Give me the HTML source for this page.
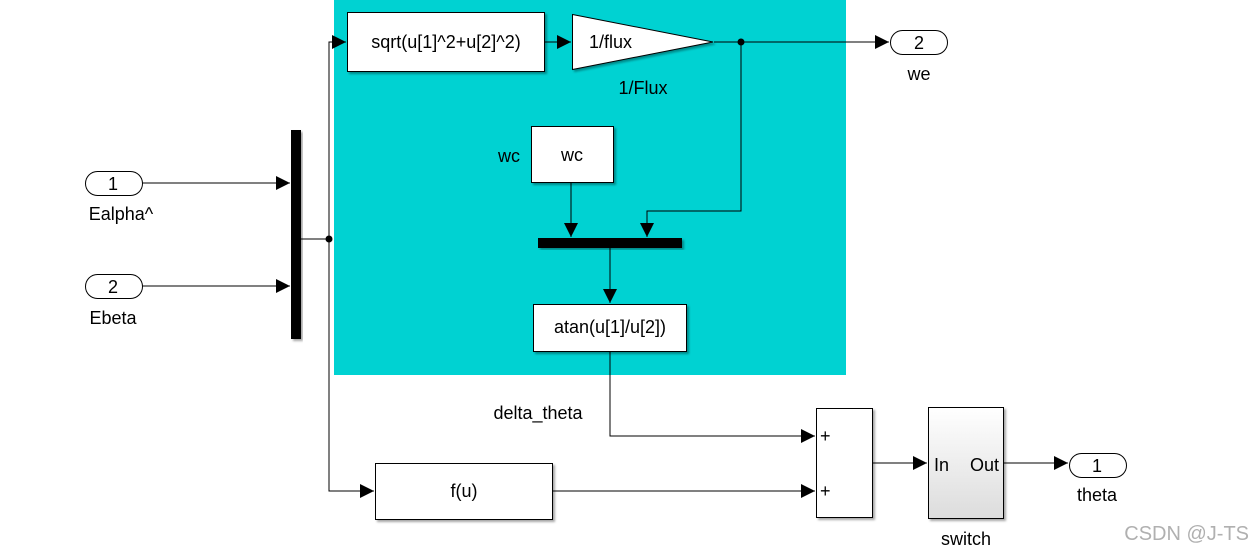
<!DOCTYPE html>
<html><head><meta charset="utf-8"><style>
html,body{margin:0;padding:0;background:#fff;}
svg{display:block;font-family:"Liberation Sans",Arial,sans-serif;}
</style></head><body>
<svg width="1253" height="555" viewBox="0 0 1253 555" xmlns="http://www.w3.org/2000/svg">
<defs>
<marker id="a" viewBox="0 0 10 10" refX="10" refY="5" markerWidth="14" markerHeight="14" markerUnits="userSpaceOnUse" orient="auto"><path d="M0,0 L10,5 L0,10 z" fill="#000"/></marker>
<linearGradient id="g" x1="0" y1="0" x2="0" y2="1"><stop offset="0" stop-color="#fff"/><stop offset="1" stop-color="#dcdcdc"/></linearGradient>
<filter id="s" x="-10%" y="-10%" width="130%" height="130%"><feDropShadow dx="2" dy="2" stdDeviation="1" flood-color="#000" flood-opacity="0.35"/></filter>
</defs>
<rect x="334" y="0" width="512" height="375" fill="#00d2d2"/>
<g stroke="#000" stroke-width="1" fill="none">
<line x1="142" y1="183" x2="290" y2="183" marker-end="url(#a)"/>
<line x1="142" y1="286" x2="290" y2="286" marker-end="url(#a)"/>
<line x1="301" y1="239" x2="329" y2="239"/>
<polyline points="329,491 329,42 346,42" marker-end="url(#a)"/>
<polyline points="329,239 329,491 374,491" marker-end="url(#a)"/>
<line x1="545" y1="42" x2="571" y2="42" marker-end="url(#a)"/>
<line x1="714" y1="42" x2="889" y2="42" marker-end="url(#a)"/>
<polyline points="741,42 741,211 647,211 647,237" marker-end="url(#a)"/>
<line x1="571" y1="183" x2="571" y2="237" marker-end="url(#a)"/>
<line x1="610" y1="248" x2="610" y2="303" marker-end="url(#a)"/>
<polyline points="610,352 610,436 815,436" marker-end="url(#a)"/>
<line x1="553" y1="491" x2="815" y2="491" marker-end="url(#a)"/>
<line x1="873" y1="463" x2="927" y2="463" marker-end="url(#a)"/>
<line x1="1003" y1="463" x2="1068" y2="463" marker-end="url(#a)"/>
</g>
<circle cx="329" cy="239" r="3.5"/>
<circle cx="741" cy="42" r="3.5"/>
<rect x="291" y="130" width="10" height="209" fill="#000" filter="url(#s)"/>
<rect x="538" y="238" width="144" height="10" fill="#000" filter="url(#s)"/>
<g stroke="#000" stroke-width="1" filter="url(#s)">
<rect x="347.5" y="12.5" width="197" height="59" fill="#fff"/>
<polygon points="572.5,14.5 713,42 572.5,69.5" fill="#fff"/>
<rect x="531.5" y="126.5" width="82" height="56" fill="#fff"/>
<rect x="533.5" y="304.5" width="153" height="47" fill="#fff"/>
<rect x="375.5" y="463.5" width="177" height="56" fill="#fff"/>
<rect x="816.5" y="408.5" width="56" height="109" fill="#fff"/>
<rect x="928.5" y="407.5" width="75" height="111" fill="url(#g)"/>
</g>
<g stroke="#000" stroke-width="1" fill="#fff">
<rect x="85.5" y="171.5" width="57" height="24" rx="12"/>
<rect x="85.5" y="274.5" width="57" height="24" rx="12"/>
<rect x="890.5" y="30.5" width="57" height="24" rx="12"/>
<rect x="1069.5" y="453.5" width="57" height="24" rx="12"/>
</g>
<g font-size="18" fill="#000" text-anchor="middle">
<text x="113" y="190">1</text>
<text x="113" y="293">2</text>
<text x="919" y="49">2</text>
<text x="1097" y="472">1</text>
<text x="121" y="220">Ealpha^</text>
<text x="113" y="324">Ebeta</text>
<text x="919" y="80">we</text>
<text x="1097" y="501">theta</text>
<text x="966" y="545">switch</text>
<text x="446" y="48">sqrt(u[1]^2+u[2]^2)</text>
<text x="643" y="94">1/Flux</text>
<text x="572" y="161">wc</text>
<text x="509" y="162">wc</text>
<text x="610" y="333">atan(u[1]/u[2])</text>
<text x="464" y="497">f(u)</text>
<text x="538" y="419">delta_theta</text>
</g>
<g font-size="18" fill="#000">
<text x="589" y="48">1/flux</text>
<text x="820" y="442">+</text>
<text x="820" y="497">+</text>
<text x="934" y="471">In</text>
<text x="970" y="471">Out</text>
</g>
<text x="1249" y="540" font-size="20" fill="#b0b0b0" text-anchor="end">CSDN @J-TS</text>
</svg>
</body></html>
